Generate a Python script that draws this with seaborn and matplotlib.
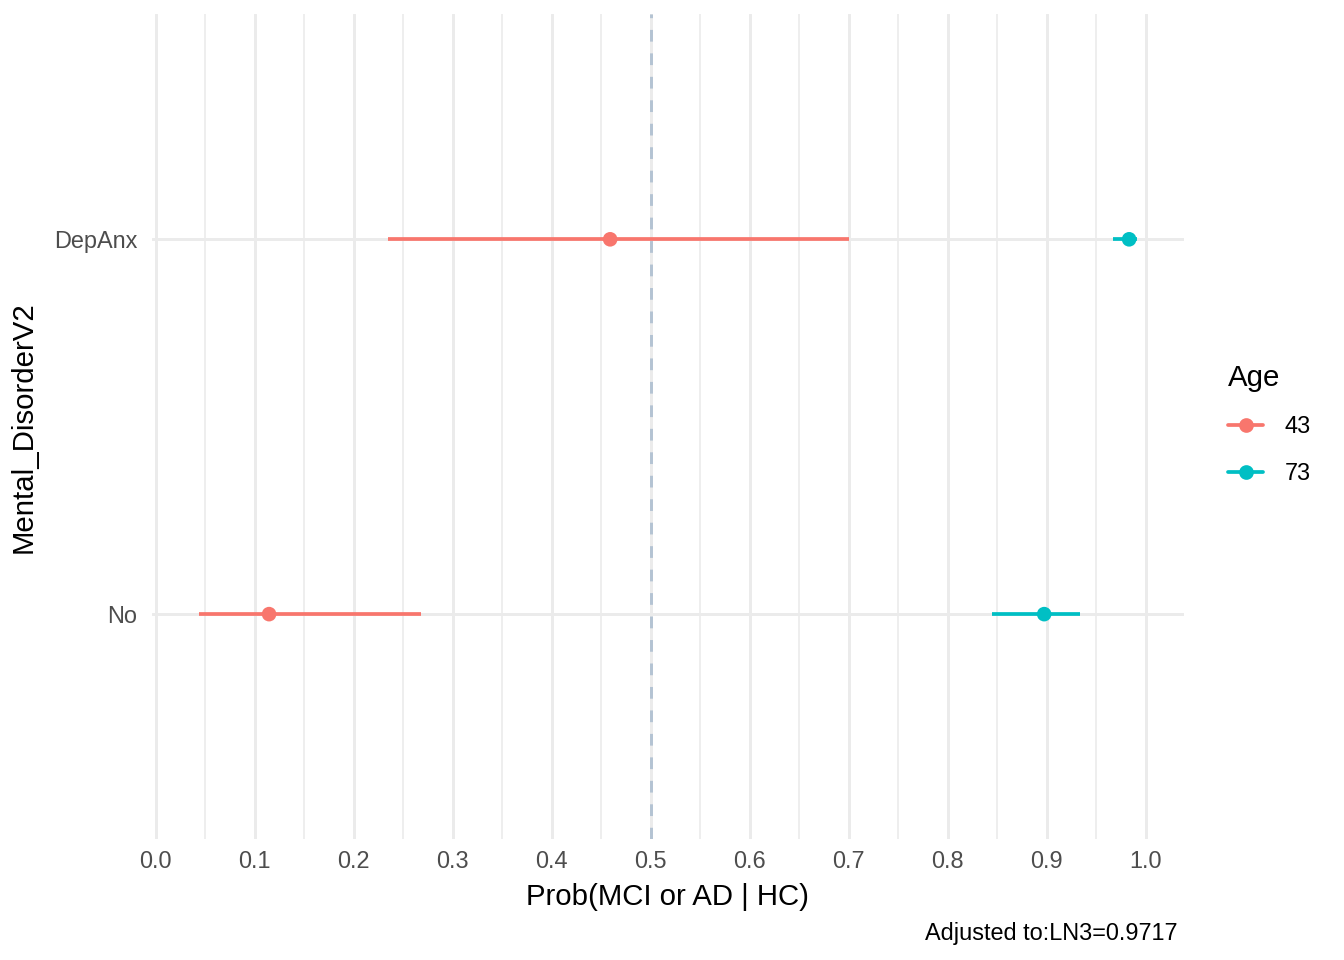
import pandas as pd
import seaborn as sns
import matplotlib.pyplot as plt
from matplotlib.lines import Line2D

# dados
categorias = ["No", "DepAnx"]
idades = ["43", "73"]
prob_43 = [0.1144, 0.4589]
low_43 = [0.0434, 0.2346]
high_43 = [0.2677, 0.7003]
prob_73 = [0.8973, 0.9831]
low_73 = [0.8450, 0.9667]
high_73 = [0.9330, 0.9912]
cores = {"43": "#F8766D", "73": "#00BFC4"}

dados = pd.DataFrame({
    "Mental_DisorderV2": categorias * 2,
    "Age": [idades[0]] * 2 + [idades[1]] * 2,
    "prob": prob_43 + prob_73,
    "low": low_43 + low_73,
    "high": high_43 + high_73,
})
dados["ypos"] = dados["Mental_DisorderV2"].map({c: i for i, c in enumerate(categorias)})

sns.set_theme(style="white")
plt.rcParams["font.family"] = ["Liberation Sans", "DejaVu Sans"]

fig = plt.figure(figsize=(7, 5), dpi=192)
ax = fig.add_axes([0.113, 0.126, 0.768, 0.859])

# grade estilo theme_minimal
ax.set_xticks([i / 10 for i in range(11)])
ax.set_xticks([i / 20 for i in range(1, 21, 2)], minor=True)
ax.grid(True, which="major", axis="both", color="#EBEBEB", linewidth=1.1, zorder=0)
ax.grid(True, which="minor", axis="x", color="#EBEBEB", linewidth=0.6, zorder=0)
ax.set_axisbelow(True)

ax.axvline(0.5, color="#B4C3D3", linewidth=1.1, linestyle=(0, (4, 4)), zorder=1)

for idade in idades:
    sub = dados[dados["Age"] == idade]
    ax.hlines(sub["ypos"], sub["low"], sub["high"], color=cores[idade], linewidth=1.4, zorder=2)

sns.scatterplot(data=dados, x="prob", y="ypos", hue="Age", palette=cores, s=30,
                edgecolor="none", legend=False, ax=ax, zorder=3)

ax.set_ylim(-0.6, 1.6)
ax.margins(x=0.05)
ax.set_yticks(range(len(categorias)))
ax.set_yticklabels(categorias)
ax.set_xticklabels(["%.1f" % (i / 10) for i in range(11)])
ax.tick_params(axis="both", which="both", length=0, labelsize=8.8, labelcolor="#4D4D4D", pad=4)
ax.tick_params(axis="y", pad=5.5)
for s in ax.spines.values():
    s.set_visible(False)

ax.set_xlabel("Prob(MCI or AD | HC)", fontsize=11, color="black", labelpad=4)
ax.set_ylabel("Mental_DisorderV2", fontsize=11, color="black", labelpad=6)

fig.text(0.876, 0.028, "Adjusted to:LN3=0.9717", ha="right", va="center", fontsize=8.8, color="black")

handles = [Line2D([0], [0], color=cores[a], marker="o", markersize=4.5, linewidth=1.4) for a in idades]
leg = fig.legend(handles, idades, title="Age", loc="upper left", bbox_to_anchor=(0.898, 0.643),
                 frameon=False, fontsize=8.8, title_fontsize=11, handlelength=1.5,
                 labelspacing=1.0, handletextpad=0.9)
leg._legend_box.align = "left"
leg.get_title().set_color("black")
for t in leg.get_texts():
    t.set_color("black")

fig.savefig("out.png", dpi=192)
